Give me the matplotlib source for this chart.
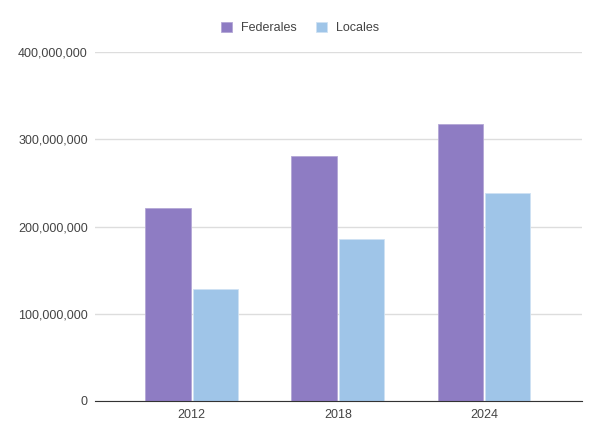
import matplotlib
matplotlib.use("Agg")
import matplotlib.pyplot as plt
import numpy as np
from matplotlib.ticker import FuncFormatter

years = ["2012", "2018", "2024"]
federales = [221_000_000, 281_000_000, 318_000_000]
locales = [128_500_000, 185_500_000, 238_500_000]
yticks = [0, 100_000_000, 200_000_000, 300_000_000, 400_000_000]

plt.rcParams['font.family'] = ['Liberation Sans', 'DejaVu Sans']
fig = plt.figure(figsize=(6, 4.38), dpi=100)
ax = fig.add_axes([0.158, 0.0845, 0.812, 0.7965])

x = np.arange(len(years))
w = 0.31
off = 0.163
c_fed = "#8e7cc3"
c_loc = "#9fc5e8"
ax.bar(x - off, federales, w, color=c_fed, edgecolor="#b4a7d6", linewidth=0.6, label="Federales", zorder=3)
ax.bar(x + off, locales, w, color=c_loc, edgecolor="#cfe2f3", linewidth=0.6, label="Locales", zorder=3)

ax.set_xlim(-0.664, 2.671)
ax.set_ylim(0, 400_000_000)
ax.set_yticks(yticks)
ax.yaxis.set_major_formatter(FuncFormatter(lambda v, p: f"{int(v):,}"))
ax.set_xticks(x)
ax.set_xticklabels(years)
ax.grid(axis="y", color="#dddddd", linewidth=1, zorder=0)
for s in ["top", "right", "left"]:
    ax.spines[s].set_visible(False)
ax.spines["bottom"].set_color("#333333")
ax.spines["bottom"].set_zorder(4)
ax.tick_params(axis="both", length=0, labelsize=9, colors="#444444")
ax.tick_params(axis="y", pad=5)
ax.tick_params(axis="x", pad=6)

leg = fig.legend(loc="upper center", bbox_to_anchor=(0.5, 0.976), ncol=2, frameon=False,
                 fontsize=9, handlelength=0.9, handleheight=0.9, columnspacing=1.5, handletextpad=0.7)
for t in leg.get_texts():
    t.set_color("#444444")

fig.savefig("out.png", dpi=100)
